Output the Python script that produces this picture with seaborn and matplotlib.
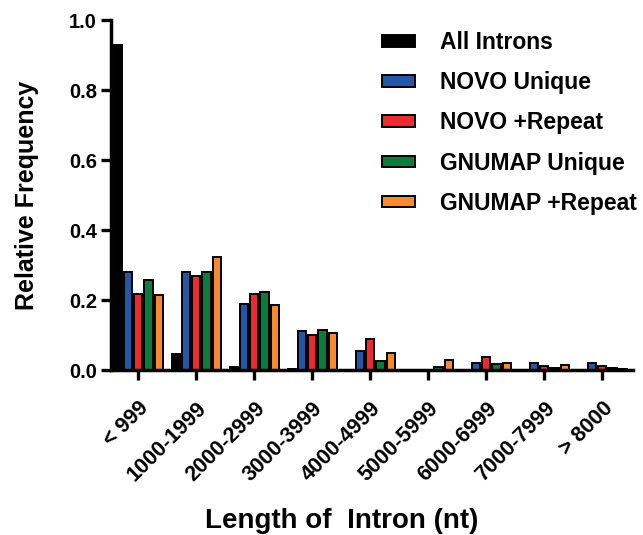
import numpy as np
import pandas as pd
import matplotlib
matplotlib.use("Agg")
import matplotlib.pyplot as plt
import seaborn as sns

categories = ["< 999", "1000-1999", "2000-2999", "3000-3999", "4000-4999",
              "5000-5999", "6000-6999", "7000-7999", "> 8000"]
series_names = ["All Introns", "NOVO Unique", "NOVO +Repeat", "GNUMAP Unique", "GNUMAP +Repeat"]
all_introns = [0.929, 0.046, 0.010, 0.003, 0.001, 0.0, 0.0, 0.0, 0.0]
novo_unique = [0.281, 0.281, 0.188, 0.111, 0.055, 0.0, 0.019, 0.019, 0.019]
novo_repeat = [0.216, 0.268, 0.216, 0.101, 0.088, 0.0, 0.037, 0.011, 0.011]
gnumap_unique = [0.257, 0.281, 0.223, 0.114, 0.025, 0.008, 0.018, 0.005, 0.006]
gnumap_repeat = [0.215, 0.322, 0.186, 0.105, 0.049, 0.029, 0.021, 0.014, 0.003]
colors = ["#000000", "#2456a6", "#ec2a30", "#0b7c3e", "#f68a2c"]

values = [all_introns, novo_unique, novo_repeat, gnumap_unique, gnumap_repeat]
df = pd.DataFrame({
    "Length": np.tile(categories, len(series_names)),
    "Series": np.repeat(series_names, len(categories)),
    "Freq": np.concatenate(values),
})

sns.set_style("ticks")
plt.rcParams['font.family'] = ['Liberation Sans', 'DejaVu Sans']
plt.rcParams['font.weight'] = 'bold'
plt.rcParams['text.color'] = 'black'
plt.rcParams['axes.labelcolor'] = 'black'

fig = plt.figure(figsize=(6.43, 5.35), dpi=100)
ax = fig.add_axes([0.1726, 0.3084, 0.8118, 0.6542])

sns.barplot(data=df, x="Length", y="Freq", hue="Series", order=categories,
            hue_order=series_names, palette=colors, saturation=1, width=0.88, gap=0.2,
            edgecolor="black", linewidth=1.4, ax=ax, legend=True)

ax.set_ylim(0, 1.0)
ax.set_xlim(-0.47, 8.53)
ax.set_yticks([0, 0.2, 0.4, 0.6, 0.8, 1.0])
ax.set_yticklabels(["0.0", "0.2", "0.4", "0.6", "0.8", "1.0"], fontsize=14.5, fontweight='bold')
ax.set_xticks(range(len(categories)))
ax.set_xticklabels(categories, rotation=45, ha='right', rotation_mode='anchor',
                   fontsize=15.5, fontweight='bold')
ax.tick_params(axis='both', length=7, width=2.4, colors='black')
ax.tick_params(axis='y', pad=3)
ax.tick_params(axis='x', pad=13)
for side in ['top', 'right']:
    ax.spines[side].set_visible(False)
for side in ['left', 'bottom']:
    ax.spines[side].set_linewidth(2.5)
    ax.spines[side].set_color('black')
ax.set_ylabel("Relative Frequency", fontsize=18, fontweight='bold', labelpad=22)
ax.set_xlabel("Length of  Intron (nt)", fontsize=20, fontweight='bold')
ax.xaxis.set_label_coords(0.4425, -0.43)
ax.xaxis.label.set_va('center')

leg = ax.legend(loc='upper left', bbox_to_anchor=(382/643, 1 - 31/535),
                bbox_transform=fig.transFigure, frameon=False,
                prop={'weight': 'bold', 'size': 16.5}, handlelength=1.45,
                handleheight=0.4, labelspacing=0.75, handletextpad=1.1,
                borderpad=0, borderaxespad=0)

fig.savefig("out.png", dpi=100, facecolor='white')
